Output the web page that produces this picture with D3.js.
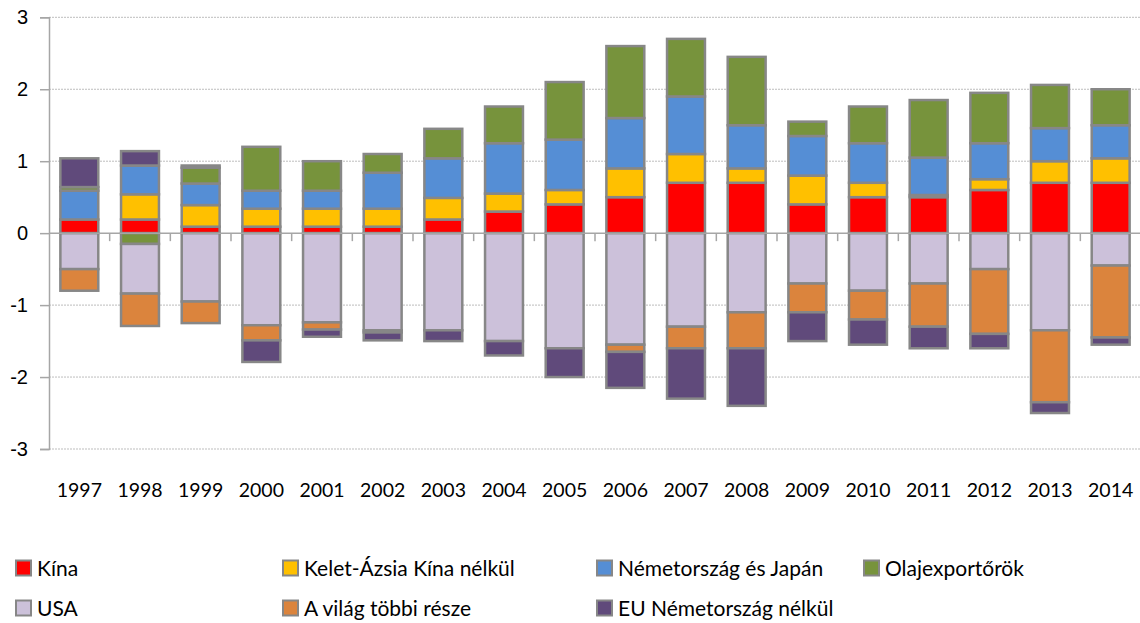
<!DOCTYPE html>
<html>
<head>
<meta charset="utf-8">
<script src="https://cdn.jsdelivr.net/npm/d3@7"></script>
<style>
  body { margin: 0; background: #fff; }
  svg { display: block; font-family: Lato, "Open Sans", sans-serif; }
</style>
</head>
<body>
<div id="chart"></div>
<script>
const years = ['1997','1998','1999','2000','2001','2002','2003','2004','2005','2006','2007','2008','2009','2010','2011','2012','2013','2014'];
const seriesNames = ['Kína', 'Kelet-Ázsia Kína nélkül', 'Németország és Japán', 'Olajexportőrök', 'USA', 'A világ többi része', 'EU Németország nélkül'];
const colors = ['#ff0000', '#ffc000', '#558ed5', '#77933c', '#ccc1da', '#db843d', '#604a7b'];

const kina     = [0.19, 0.19, 0.09, 0.09, 0.09, 0.09, 0.19, 0.30, 0.40, 0.50, 0.70, 0.70, 0.40, 0.50, 0.50, 0.60, 0.70, 0.70];
const keletAz  = [0.00, 0.35, 0.30, 0.25, 0.25, 0.25, 0.30, 0.25, 0.20, 0.40, 0.40, 0.20, 0.40, 0.20, 0.03, 0.15, 0.30, 0.34];
const nemJap   = [0.40, 0.40, 0.30, 0.25, 0.25, 0.50, 0.55, 0.70, 0.70, 0.70, 0.80, 0.60, 0.55, 0.55, 0.52, 0.50, 0.46, 0.46];
const olaj     = [0.05, -0.15, 0.22, 0.61, 0.41, 0.26, 0.41, 0.51, 0.80, 1.00, 0.80, 0.95, 0.20, 0.51, 0.80, 0.70, 0.60, 0.50];
const usa      = [-0.50, -0.69, -0.95, -1.28, -1.24, -1.35, -1.35, -1.50, -1.60, -1.55, -1.30, -1.10, -0.70, -0.80, -0.70, -0.50, -1.35, -0.45];
const vilag    = [-0.30, -0.45, -0.30, -0.21, -0.10, -0.03, 0.00, 0.00, 0.00, -0.10, -0.30, -0.50, -0.40, -0.40, -0.60, -0.90, -1.00, -1.00];
const eu       = [0.40, 0.20, 0.03, -0.30, -0.10, -0.11, -0.15, -0.20, -0.40, -0.50, -0.70, -0.80, -0.40, -0.35, -0.30, -0.20, -0.15, -0.10];
const yTicks   = [-3, -2, -1, 0, 1, 2, 3];

const allSeries = [kina, keletAz, nemJap, olaj, usa, vilag, eu];
const rows = years.map((y, i) => {
  const r = { year: y };
  seriesNames.forEach((s, k) => { r[s] = allSeries[k][i]; });
  return r;
});

const width = 1140, height = 623;
const plot = { left: 49, right: 1141, top: 17.3, bottom: 449 };

const svg = d3.select('#chart').append('svg')
  .attr('width', width)
  .attr('height', height);

const x = d3.scaleBand()
  .domain(years)
  .range([plot.left, plot.right])
  .paddingInner(0.375)
  .paddingOuter(0.1875);

const y = d3.scaleLinear()
  .domain([-3, 3])
  .range([plot.bottom, plot.top]);

// gridlines (dotted), zero line solid
svg.append('g')
  .selectAll('line')
  .data(yTicks.filter(d => d !== 0))
  .enter()
  .append('line')
  .attr('x1', plot.left)
  .attr('x2', plot.right)
  .attr('y1', d => y(d))
  .attr('y2', d => y(d))
  .attr('stroke', '#bdbdbd')
  .attr('stroke-width', 1)
  .attr('stroke-dasharray', '2,1');

const stack = d3.stack()
  .keys(seriesNames)
  .offset(d3.stackOffsetDiverging);
const stacked = stack(rows);

svg.append('g')
  .selectAll('g')
  .data(stacked)
  .enter()
  .append('g')
  .attr('fill', (d, i) => colors[i])
  .selectAll('rect')
  .data(d => d.filter(p => p[1] - p[0] !== 0))
  .enter()
  .append('rect')
  .attr('x', d => x(d.data.year))
  .attr('width', x.bandwidth())
  .attr('y', d => y(Math.max(d[0], d[1])))
  .attr('height', d => Math.abs(y(d[0]) - y(d[1])))
  .attr('stroke', '#878787')
  .attr('stroke-width', 2.5);

// y axis
const yAxis = svg.append('g')
  .attr('transform', `translate(${plot.left},0)`)
  .call(d3.axisLeft(y).tickValues(yTicks).tickSize(9).tickPadding(12).tickFormat(d3.format('d')));
yAxis.select('.domain').attr('stroke', '#a6a6a6').attr('stroke-width', 1.5);
yAxis.selectAll('.tick line').attr('stroke', '#a6a6a6').attr('stroke-width', 1.5);
yAxis.selectAll('.tick text')
  .attr('fill', '#000')
  .style('font-size', '20px')
  .text(d => d < 0 ? '-' + Math.abs(d) : d);

// zero axis with category boundary ticks
svg.append('line')
  .attr('x1', plot.left)
  .attr('x2', plot.right)
  .attr('y1', y(0))
  .attr('y2', y(0))
  .attr('stroke', '#a6a6a6')
  .attr('stroke-width', 1.5);

svg.append('g')
  .selectAll('line')
  .data(years.slice(1))
  .enter()
  .append('line')
  .attr('x1', d => x(d) - x.step() * x.paddingInner() / 2)
  .attr('x2', d => x(d) - x.step() * x.paddingInner() / 2)
  .attr('y1', y(0))
  .attr('y2', y(0) + 8)
  .attr('stroke', '#a6a6a6')
  .attr('stroke-width', 1.5);

// year labels
svg.append('g')
  .selectAll('text')
  .data(years)
  .enter()
  .append('text')
  .attr('x', d => x(d) + x.bandwidth() / 2)
  .attr('y', 497)
  .attr('text-anchor', 'middle')
  .style('font-size', '19.5px')
  .text(d => d);

// legend
const legendPos = [
  [15, 568], [282, 568], [596, 568], [863, 568],
  [15, 608], [282, 608], [596, 608]
];
const legend = svg.append('g')
  .selectAll('g')
  .data(seriesNames)
  .enter()
  .append('g')
  .attr('transform', (d, i) => `translate(${legendPos[i][0]},${legendPos[i][1]})`);

legend.append('rect')
  .attr('x', 1)
  .attr('y', -7.5)
  .attr('width', 15)
  .attr('height', 15)
  .attr('fill', (d, i) => colors[i])
  .attr('stroke', '#878787')
  .attr('stroke-width', 2);

legend.append('text')
  .attr('x', 22)
  .attr('y', 8)
  .style('font-size', '21px')
  .text(d => d);
</script>
</body>
</html>
